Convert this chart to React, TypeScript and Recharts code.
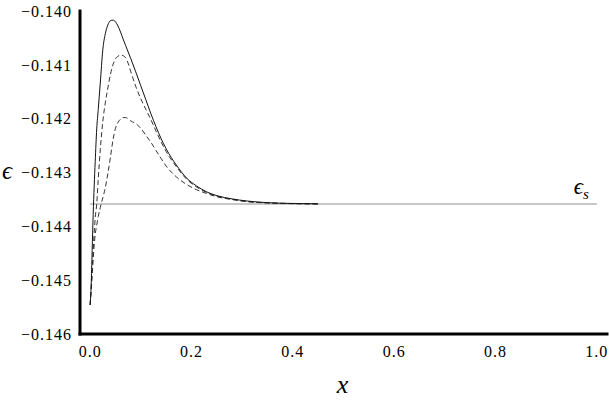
import React from 'react';
import { LineChart, Line, XAxis, YAxis, ReferenceLine } from 'recharts';

const xs = [0, 0.002, 0.004, 0.006, 0.008, 0.01, 0.013, 0.016, 0.02, 0.025, 0.03, 0.035, 0.04, 0.045, 0.05, 0.055, 0.06, 0.065, 0.07, 0.075, 0.08, 0.09, 0.1, 0.11, 0.12, 0.13, 0.14, 0.15, 0.17, 0.19, 0.21, 0.23, 0.25, 0.28, 0.31, 0.35, 0.4, 0.45];

const epsSolid = [-0.14546, -0.1451, -0.14445, -0.14378, -0.14325, -0.1428, -0.14219, -0.14183, -0.14134, -0.14072, -0.14042, -0.14026, -0.14018, -0.14017, -0.1402, -0.14028, -0.14039, -0.14052, -0.14064, -0.14076, -0.14088, -0.14113, -0.14139, -0.14165, -0.14191, -0.14215, -0.14237, -0.14256, -0.14286, -0.1431, -0.14325, -0.14336, -0.14343, -0.14349, -0.14353, -0.14356, -0.143575, -0.143582];

const epsDashA = [-0.14546, -0.14515, -0.14478, -0.14445, -0.14412, -0.14385, -0.14358, -0.14312, -0.14258, -0.14205, -0.1417, -0.14143, -0.14118, -0.141, -0.14089, -0.14084, -0.14082, -0.14083, -0.14087, -0.14097, -0.14112, -0.1414, -0.14163, -0.14183, -0.14202, -0.14223, -0.14243, -0.14261, -0.14289, -0.14312, -0.14327, -0.14337, -0.14344, -0.1435, -0.14354, -0.143565, -0.143578, -0.143584];

const epsDashB = [-0.14546, -0.1452, -0.14492, -0.14462, -0.14435, -0.14415, -0.14398, -0.14382, -0.14365, -0.14347, -0.14328, -0.14302, -0.14272, -0.1424, -0.14218, -0.14207, -0.14201, -0.14198, -0.14198, -0.142, -0.14204, -0.14209, -0.14218, -0.14231, -0.14244, -0.14259, -0.14274, -0.14288, -0.14308, -0.14322, -0.14332, -0.14339, -0.14345, -0.1435, -0.14354, -0.143565, -0.143578, -0.143584];

const EPS_S = -0.143585;
const xTicks = [0, 0.2, 0.4, 0.6, 0.8, 1.0];
const yTicks = [-0.146, -0.145, -0.144, -0.143, -0.142, -0.141, -0.14];

const data = xs.map((x, i) => ({ x, solid: epsSolid[i], dashA: epsDashA[i], dashB: epsDashB[i] }));

const FONT = "'Liberation Serif', 'DejaVu Serif', serif";
const frame: any = { stroke: '#000', strokeWidth: 3, strokeLinecap: 'square' };
const tickStyle: any = { fill: '#000', fontSize: 16, letterSpacing: 1, style: { fontFamily: FONT } };

const XLabel = (p: any) => {
  const vb = p.viewBox;
  return (
    <text x={vb.x + vb.width / 2 - 1} y={vb.y + 59} textAnchor="middle" style={{ fontFamily: FONT, fontStyle: 'italic' }} fontSize={26} fill="#000">
      x
    </text>
  );
};

const YLabel = (p: any) => {
  const vb = p.viewBox;
  return (
    <text x={7} y={vb.y + vb.height / 2 + 6} textAnchor="middle" style={{ fontFamily: FONT, fontStyle: 'italic' }} fontSize={25} fill="#000">
      ϵ
    </text>
  );
};

const EpsSLabel = (p: any) => {
  const vb = p.viewBox;
  return (
    <text x={vb.x + vb.width - 8} y={vb.y - 10} textAnchor="end" style={{ fontFamily: FONT, fontStyle: 'italic' }} fill="#000">
      <tspan fontSize={23}>ϵ</tspan>
      <tspan fontSize={15} dy={5}>s</tspan>
    </text>
  );
};

export default function App() {
  return (
    <div style={{ position: 'absolute', left: 0, top: 0, width: 609, height: 401, background: '#fff', fontFamily: FONT }}>
      <LineChart width={609} height={401} data={data} margin={{ top: 11, right: 2, bottom: 0, left: 0 }} style={{ fontFamily: FONT }}>
        <XAxis
          dataKey="x"
          type="number"
          domain={[-0.02, 1.02]}
          ticks={xTicks}
          allowDataOverflow
          tickFormatter={(v: number) => v.toFixed(1)}
          tickLine={false}
          axisLine={frame}
          height={67}
          tickMargin={6}
          tick={tickStyle}
          label={{ content: XLabel }}
        />
        <XAxis xAxisId="top" orientation="top" type="number" domain={[-0.02, 1.02]} allowDataOverflow height={0} tick={false} tickLine={false} axisLine={frame} />
        <YAxis
          type="number"
          domain={[-0.146, -0.14]}
          ticks={yTicks}
          allowDataOverflow
          width={80}
          tickLine={false}
          axisLine={frame}
          tick={tickStyle}
          tickFormatter={(v: number) => '\u2212' + Math.abs(v).toFixed(3)}
          label={{ content: YLabel }}
        />
        <YAxis yAxisId="right" orientation="right" type="number" domain={[-0.146, -0.14]} allowDataOverflow width={0} tick={false} tickLine={false} axisLine={frame} />
        <ReferenceLine
          segment={[{ x: 0, y: EPS_S }, { x: 1, y: EPS_S }]}
          stroke="#b5b5b5"
          strokeWidth={1.5}
          label={{ content: EpsSLabel }}
        />
        <Line type="monotone" dataKey="dashB" stroke="#333" strokeWidth={1} strokeDasharray="5 3" dot={false} isAnimationActive={false} />
        <Line type="monotone" dataKey="dashA" stroke="#333" strokeWidth={1} strokeDasharray="5 3" dot={false} isAnimationActive={false} />
        <Line type="monotone" dataKey="solid" stroke="#111" strokeWidth={1} dot={false} isAnimationActive={false} />
      </LineChart>
    </div>
  );
}
